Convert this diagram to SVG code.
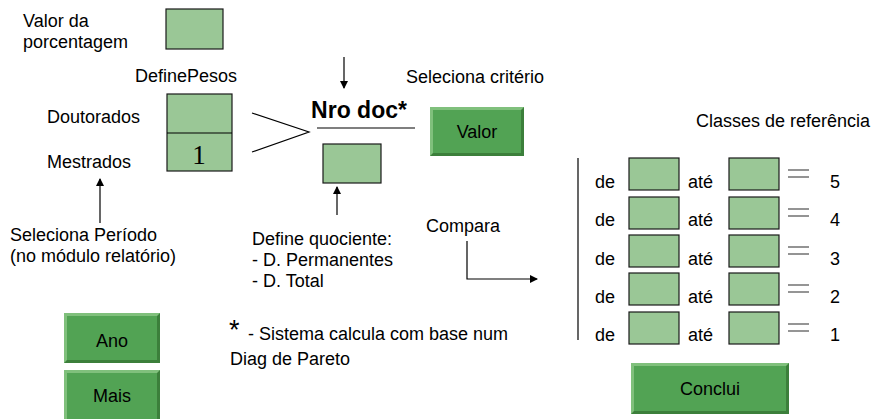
<svg xmlns="http://www.w3.org/2000/svg" width="879" height="419" viewBox="0 0 879 419">
<style>
text{font-family:"Liberation Sans",Arial,sans-serif;font-size:18px;fill:#000}
.box{fill:#9ac796;stroke:#1a1a1a;stroke-width:1.2}
.face{fill:#52a354}
.lt{fill:#80c07c}
.dk{fill:#3c7f3b}
.ln{stroke:#000;stroke-width:1.2;fill:none}
.eq{stroke:#7a7a7a;stroke-width:1.6}
.c{text-anchor:middle}
</style>
<defs>
<marker id="ah" markerWidth="8" markerHeight="8" refX="7" refY="4" orient="auto" markerUnits="userSpaceOnUse">
<path d="M0,0 L8,4 L0,8 z" fill="#000"/>
</marker>
</defs>

<g id="pct">
<text x="23" y="27">Valor da</text>
<text x="23" y="48">porcentagem</text>
<rect class="box" x="166" y="9" width="57" height="40"/>
</g>

<g id="pesos">
<text x="135" y="82">DefinePesos</text>
<text x="47" y="123">Doutorados</text>
<text x="47" y="168">Mestrados</text>
<rect class="box" x="167" y="94" width="65" height="77"/>
<line class="ln" x1="167" y1="133" x2="232" y2="133"/>
<text x="199" y="164" class="c" style="font-family:'Liberation Serif','Times New Roman',serif;font-size:27px">1</text>
</g>

<g id="nrodoc">
<polyline class="ln" points="252,113 309,132 252,152"/>
<text x="359" y="118" class="c" style="font-weight:bold;font-size:23px">Nro doc*</text>
<line class="ln" x1="317" y1="128" x2="415" y2="128"/>
<rect class="box" x="323" y="144" width="58" height="39"/>
</g>

<g id="valor">
<text x="406" y="83">Seleciona critério</text>
<rect class="dk" x="430" y="107" width="94" height="49"/>
<polygon class="lt" points="430,107 524,107 521,110 433,110 433,153 430,156"/>
<rect class="face" x="433" y="110" width="88" height="43"/>
<text x="477" y="138" class="c">Valor</text>
</g>

<g id="periodo">
<text x="10" y="241">Seleciona Período</text>
<text x="10" y="262">(no módulo relatório)</text>
</g>

<g id="quociente">
<text x="252" y="245">Define quociente:</text>
<text x="252" y="266">- D. Permanentes</text>
<text x="252" y="287">- D. Total</text>
</g>

<g id="compara">
<text x="426" y="232">Compara</text>
</g>

<g id="nota">
<text x="229" y="339" style="font-size:27px">*</text>
<text x="248" y="340">- Sistema calcula com base num</text>
<text x="230" y="365">Diag de Pareto</text>
</g>

<g id="ano">
<rect class="dk" x="64" y="313" width="96" height="50"/>
<polygon class="lt" points="64,313 160,313 157,316 67,316 67,360 64,363"/>
<rect class="face" x="67" y="316" width="90" height="44"/>
<text x="112" y="347" class="c">Ano</text>
</g>

<g id="mais">
<rect class="dk" x="64" y="370" width="96" height="55"/>
<polygon class="lt" points="64,370 160,370 157,373 67,373 67,422 64,425"/>
<rect class="face" x="67" y="373" width="90" height="49"/>
<text x="112" y="402" class="c">Mais</text>
</g>

<g id="classes">
<text x="696" y="127">Classes de referência</text>
<line class="ln" x1="578" y1="158" x2="578" y2="340"/>
<g id="row5">
<text x="595" y="188">de</text><rect class="box" x="629" y="158" width="50" height="32"/>
<text x="688" y="188">até</text><rect class="box" x="729" y="158" width="50" height="32"/>
<line class="eq" x1="788" y1="170" x2="809" y2="170"/><line class="eq" x1="788" y1="177" x2="809" y2="177"/>
<text x="830" y="188">5</text>
</g>
<g id="row4">
<text x="595" y="226">de</text><rect class="box" x="629" y="197" width="50" height="32"/>
<text x="688" y="226">até</text><rect class="box" x="729" y="197" width="50" height="32"/>
<line class="eq" x1="788" y1="209" x2="809" y2="209"/><line class="eq" x1="788" y1="216" x2="809" y2="216"/>
<text x="830" y="226">4</text>
</g>
<g id="row3">
<text x="595" y="265">de</text><rect class="box" x="629" y="235" width="50" height="32"/>
<text x="688" y="265">até</text><rect class="box" x="729" y="235" width="50" height="32"/>
<line class="eq" x1="788" y1="247" x2="809" y2="247"/><line class="eq" x1="788" y1="254" x2="809" y2="254"/>
<text x="830" y="265">3</text>
</g>
<g id="row2">
<text x="595" y="303">de</text><rect class="box" x="629" y="273" width="50" height="32"/>
<text x="688" y="303">até</text><rect class="box" x="729" y="273" width="50" height="32"/>
<line class="eq" x1="788" y1="285" x2="809" y2="285"/><line class="eq" x1="788" y1="292" x2="809" y2="292"/>
<text x="830" y="303">2</text>
</g>
<g id="row1">
<text x="595" y="341">de</text><rect class="box" x="629" y="312" width="50" height="32"/>
<text x="688" y="341">até</text><rect class="box" x="729" y="312" width="50" height="32"/>
<line class="eq" x1="788" y1="324" x2="809" y2="324"/><line class="eq" x1="788" y1="331" x2="809" y2="331"/>
<text x="830" y="341">1</text>
</g>
</g>

<g id="conclui">
<rect class="dk" x="631" y="363" width="158" height="51"/>
<polygon class="lt" points="631,363 789,363 786,366 634,366 634,411 631,414"/>
<rect class="face" x="634" y="366" width="152" height="45"/>
<text x="710" y="395" class="c">Conclui</text>
</g>

<g id="connectors">
<line class="ln" x1="344" y1="57" x2="344" y2="88" marker-end="url(#ah)"/>
<line class="ln" x1="337" y1="215" x2="337" y2="187" marker-end="url(#ah)"/>
<line class="ln" x1="100" y1="223" x2="100" y2="179" marker-end="url(#ah)"/>
<polyline class="ln" points="467,241 467,279 537,279" marker-end="url(#ah)"/>
</g>
</svg>
